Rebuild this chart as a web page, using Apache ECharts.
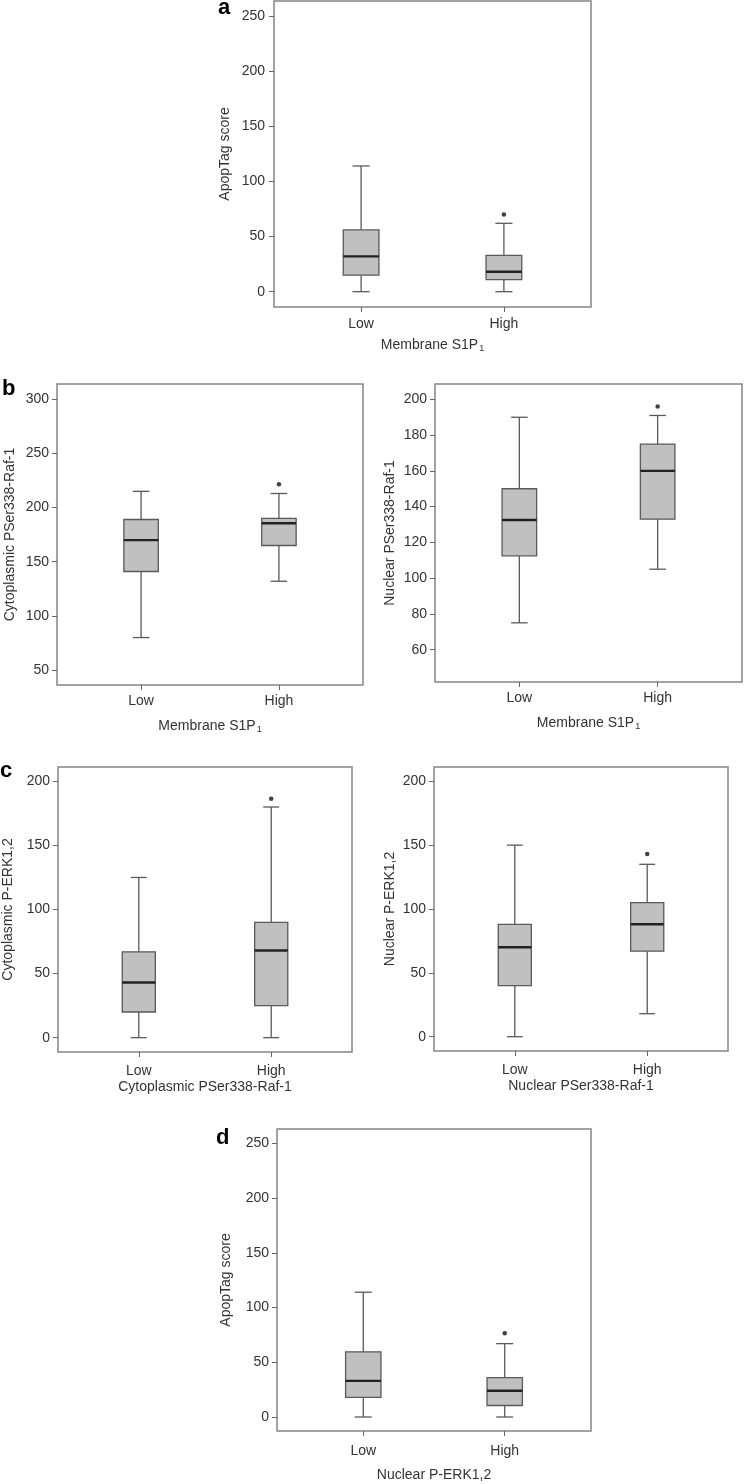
<!DOCTYPE html>
<html><head><meta charset="utf-8">
<script src="https://cdn.jsdelivr.net/npm/echarts@6/dist/echarts.min.js"></script>
<style>html,body{margin:0;padding:0;background:#fff}#c{width:744px;height:1484px}</style>
</head><body><div id="c"></div>
<script>
// ---- data ----
const groups = ['Low', 'High'];
// each box: [min, Q1, median, Q3, max] for Low, High
const boxA  = [[0, 15, 32, 56, 114], [0, 11, 18, 33, 62]];
const starA = [70];
const boxB1  = [[80, 141, 170, 189, 215], [132, 165, 185.5, 190, 213]];
const starB1 = [221.5];
const boxB2  = [[75, 112.5, 132.5, 150, 190], [105, 133, 160, 175, 191]];
const starB2 = [196];
const boxC1  = [[0, 20, 43, 67, 125], [0, 25, 68, 90, 180]];
const starC1 = [186.5];
const boxC2  = [[0, 40, 70, 88, 150], [18, 67, 88, 105, 135]];
const starC2 = [143];
const boxD  = [[0, 18, 33, 59.5, 114], [0, 10.5, 24, 36, 67]];
const starD = [76.5];
const ticksApop = [0, 50, 100, 150, 200, 250];
const ticksB1 = [50, 100, 150, 200, 250, 300];
const ticksB2 = [60, 80, 100, 120, 140, 160, 180, 200];
const ticksC = [0, 50, 100, 150, 200];
const xNames = ['Membrane S1P{sub|1}', 'Membrane S1P{sub|1}', 'Membrane S1P{sub|1}',
  'Cytoplasmic PSer338-Raf-1', 'Nuclear PSer338-Raf-1', 'Nuclear P-ERK1,2'];
const yNames = ['ApopTag score', 'Cytoplasmic PSer338-Raf-1', 'Nuclear PSer338-Raf-1',
  'Cytoplasmic P-ERK1,2', 'Nuclear P-ERK1,2', 'ApopTag score'];
const letters = ['a', 'b', 'c', 'd'];

// ---- layout ----
const FONT = '"Liberation Sans", Arial, Helvetica, sans-serif';
const panels = [
  {box: boxA,  star: starA,  ticks: ticksApop, ymin: -13.9, ymax: 263.6, grid: {left: 274, top: 1, width: 317, height: 306}, yGap: 42, lblM: 9, xGap: 30, xM: 10},
  {box: boxB1, star: starB1, ticks: ticksB1,   ymin: 36.2,  ymax: 314.1, grid: {left: 57, top: 384, width: 306, height: 301}, yGap: 40, lblM: 8, xGap: 33, xM: 9},
  {box: boxB2, star: starB2, ticks: ticksB2,   ymin: 41.9,  ymax: 208.6, grid: {left: 435, top: 384, width: 307, height: 298}, yGap: 38, lblM: 8, xGap: 33, xM: 9},
  {box: boxC1, star: starC1, ticks: ticksC,    ymin: -11.2, ymax: 211.2, grid: {left: 57, top: 767, width: 295, height: 285}, yGap: 43, lblM: 8, xGap: 28, xM: 12},
  {box: boxC2, star: starC2, ticks: ticksC,    ymin: -11.2, ymax: 211.2, grid: {left: 434, top: 767, width: 294, height: 284}, yGap: 37, lblM: 8, xGap: 28, xM: 12},
  {box: boxD,  star: starD,  ticks: ticksApop, ymin: -12.8, ymax: 263.1, grid: {left: 277, top: 1129, width: 314, height: 302}, yGap: 44, lblM: 8, xGap: 37, xM: 13}
];
const letterPos = [{left: 218, top: -3}, {left: 2, top: 378}, {left: 0, top: 760}, {left: 216, top: 1127}];

const textC = '#333';
function renderBox(params, api) {
  const x = api.value(0);
  const pts = [1, 2, 3, 4, 5].map(i => api.coord([x, api.value(i)]));
  const bw = api.size([0.25, 0])[0];
  const cw = api.size([0.12, 0])[0];
  const cx = pts[0][0];
  const ls = {stroke: '#5a5a5a', lineWidth: 1.3};
  return {type: 'group', children: [
    {type: 'line', shape: {x1: cx, y1: pts[0][1], x2: cx, y2: pts[1][1]}, style: ls},
    {type: 'line', shape: {x1: cx, y1: pts[3][1], x2: cx, y2: pts[4][1]}, style: ls},
    {type: 'line', shape: {x1: cx - cw / 2, y1: pts[0][1], x2: cx + cw / 2, y2: pts[0][1]}, style: ls},
    {type: 'line', shape: {x1: cx - cw / 2, y1: pts[4][1], x2: cx + cw / 2, y2: pts[4][1]}, style: ls},
    {type: 'rect', shape: {x: cx - bw / 2, y: pts[3][1], width: bw, height: pts[1][1] - pts[3][1]},
      style: {fill: '#c0c0c0', stroke: '#5a5a5a', lineWidth: 1.3}},
    {type: 'line', shape: {x1: cx - bw / 2, y1: pts[2][1], x2: cx + bw / 2, y2: pts[2][1]},
      style: {stroke: '#222', lineWidth: 2.4}}
  ]};
}

const option = {
  animation: false,
  backgroundColor: '#fff',
  textStyle: {fontFamily: FONT},
  title: letters.map((t, i) => ({text: t, left: letterPos[i].left, top: letterPos[i].top, padding: 0,
    textStyle: {fontSize: 22, fontWeight: 'bold', color: '#000', fontFamily: FONT}})),
  grid: panels.map(p => Object.assign({show: true, borderColor: '#858585', borderWidth: 1.5, backgroundColor: 'transparent'}, p.grid)),
  xAxis: panels.map((p, i) => ({
    type: 'value', gridIndex: i, min: 0.39, max: 2.61, position: 'bottom',
    axisLine: {show: false, onZero: false}, splitLine: {show: false},
    axisTick: {show: true, length: 5, customValues: [1, 2], lineStyle: {color: '#666'}},
    axisLabel: {customValues: [1, 2], formatter: v => groups[Math.round(v) - 1], margin: p.xM,
      fontSize: 14, color: textC, fontFamily: FONT},
    name: xNames[i], nameLocation: 'middle', nameGap: p.xGap,
    nameTextStyle: {fontSize: 14, color: textC, fontFamily: FONT,
      rich: {sub: {fontSize: 9, color: textC, fontFamily: FONT, verticalAlign: 'bottom', padding: [7, 0, 0, 1]}}}
  })),
  yAxis: panels.map((p, i) => ({
    type: 'value', gridIndex: i, min: p.ymin, max: p.ymax, position: 'left',
    axisLine: {show: false, onZero: false}, splitLine: {show: false},
    axisTick: {show: true, length: 5, customValues: p.ticks, lineStyle: {color: '#666'}},
    axisLabel: {customValues: p.ticks, margin: p.lblM, fontSize: 14, color: textC, fontFamily: FONT},
    name: yNames[i], nameLocation: 'middle', nameGap: p.yGap,
    nameTextStyle: {fontSize: 14, color: textC, fontFamily: FONT}
  })),
  series: panels.flatMap((p, i) => [
    {type: 'custom', xAxisIndex: i, yAxisIndex: i, renderItem: renderBox,
      encode: {x: 0, y: [1, 2, 3, 4, 5]},
      data: p.box.map((b, k) => [k + 1].concat(b))},
    {type: 'scatter', xAxisIndex: i, yAxisIndex: i, symbol: 'circle', symbolSize: 4.5,
      itemStyle: {color: '#111'}, data: p.star.map(v => [2, v])}
  ])
};
const chart = echarts.init(document.getElementById('c'), null, {renderer: 'canvas'});
chart.setOption(option);
</script></body></html>
